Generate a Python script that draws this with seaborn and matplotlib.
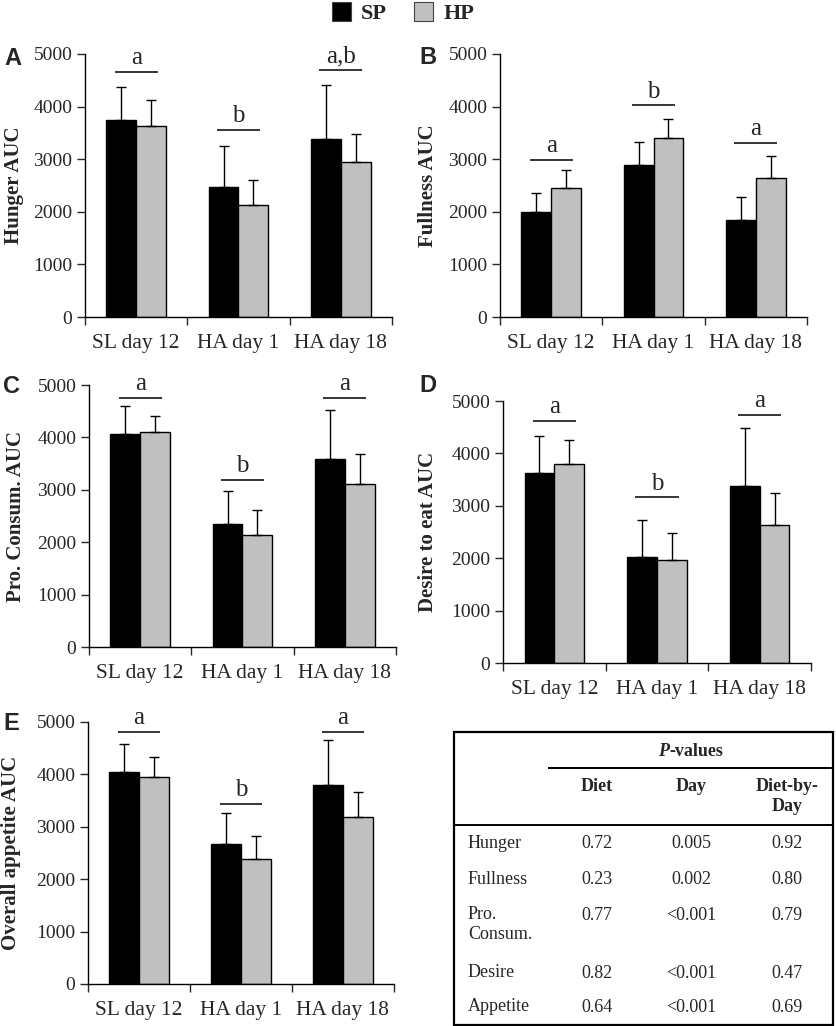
import numpy as np
import pandas as pd
import matplotlib.pyplot as plt
import seaborn as sns
from matplotlib.patches import Patch, Rectangle

days = ["SL day 12", "HA day 1", "HA day 18"]
diets = ["SP", "HP"]

hunger_sp = [3750, 2480, 3380]
hunger_sp_sd = [615, 780, 1030]
hunger_hp = [3630, 2130, 2940]
hunger_hp_sd = [495, 470, 540]
hunger_letters = ["a", "b", "a,b"]
hunger_letter_y = [4660, 3550, 4700]

fullness_sp = [1990, 2890, 1840]
fullness_sp_sd = [375, 440, 435]
fullness_hp = [2445, 3410, 2635]
fullness_hp_sd = [355, 355, 430]
fullness_letters = ["a", "b", "a"]
fullness_letter_y = [2985, 4025, 3315]

consum_sp = [4065, 2350, 3595]
consum_sp_sd = [525, 630, 920]
consum_hp = [4105, 2135, 3120]
consum_hp_sd = [310, 480, 555]
consum_letters = ["a", "b", "a"]
consum_letter_y = [4750, 3195, 4750]

desire_sp = [3635, 2020, 3375]
desire_sp_sd = [700, 705, 1105]
desire_hp = [3800, 1975, 2625]
desire_hp_sd = [465, 515, 625]
desire_letters = ["a", "b", "a"]
desire_letter_y = [4620, 3160, 4740]

appetite_sp = [4045, 2675, 3805]
appetite_sp_sd = [540, 595, 845]
appetite_hp = [3950, 2385, 3195]
appetite_hp_sd = [375, 435, 460]
appetite_letters = ["a", "b", "a"]
appetite_letter_y = [4810, 3430, 4810]

table_rows = ["Hunger", "Fullness", "Pro.\nConsum.", "Desire", "Appetite"]
p_diet = ["0.72", "0.23", "0.77", "0.82", "0.64"]
p_day = ["0.005", "0.002", "<0.001", "<0.001", "<0.001"]
p_diet_by_day = ["0.92", "0.80", "0.79", "0.47", "0.69"]

sns.set_style("ticks")
plt.rcParams["font.family"] = ["Liberation Serif", "DejaVu Serif"]

W, H = 837, 1026
fig = plt.figure(figsize=(W / 100, H / 100), dpi=100)


def px_axes(left, top, right, bottom):
    return fig.add_axes([left / W, 1 - bottom / H, (right - left) / W, (bottom - top) / H])


# tag, y label, data..., axes box (px), tag position (px), y label right edge (px)
panels = [
    ("A", "Hunger AUC", hunger_sp, hunger_sp_sd, hunger_hp, hunger_hp_sd,
     hunger_letters, hunger_letter_y, (85, 54, 392, 317), (4, 65), 24),
    ("B", "Fullness AUC", fullness_sp, fullness_sp_sd, fullness_hp, fullness_hp_sd,
     fullness_letters, fullness_letter_y, (500, 54, 807, 317), (419, 64), 438),
    ("C", "Pro. Consum. AUC", consum_sp, consum_sp_sd, consum_hp, consum_hp_sd,
     consum_letters, consum_letter_y, (89, 385, 396, 647), (3, 393), 26),
    ("D", "Desire to eat AUC", desire_sp, desire_sp_sd, desire_hp, desire_hp_sd,
     desire_letters, desire_letter_y, (503, 401, 811, 663), (419, 392), 438),
    ("E", "Overall appetite AUC", appetite_sp, appetite_sp_sd, appetite_hp, appetite_hp_sd,
     appetite_letters, appetite_letter_y, (88, 722, 394, 984), (3, 730), 21),
]

colors = ["black", "#c0c0c0"]

for (tag, ylabel, sp, sp_sd, hp, hp_sd, letters, letter_y,
     box, tag_pos, label_x) in panels:
    ax = px_axes(*box)
    df = pd.DataFrame({
        "day": days * 2,
        "diet": ["SP"] * 3 + ["HP"] * 3,
        "auc": sp + hp,
    })
    sns.barplot(
        data=df, x="day", y="auc", hue="diet", order=days, hue_order=diets,
        palette=colors, width=0.58, edgecolor="black", linewidth=1,
        errorbar=None, legend=False, saturation=1, ax=ax
    )
    for cont, means, sd in zip(ax.containers, [sp, hp], [sp_sd, hp_sd]):
        xs = [p.get_x() + p.get_width() / 2 for p in cont]
        ax.errorbar(xs, means, yerr=[np.zeros(len(sd)), sd], fmt="none",
                    ecolor="black", elinewidth=1, capsize=3.5, capthick=1, zorder=5)
    for i, (lt, ly) in enumerate(zip(letters, letter_y)):
        ax.hlines(ly, i - 0.21, i + 0.21, color="black", linewidth=1.1)
        ax.annotate(lt, (i, ly), xytext=(0, 2), textcoords="offset points",
                    ha="center", va="bottom", fontsize=18)

    ax.set_ylim(0, 5000)
    ax.set_xlim(-0.5, 2.5)
    ax.set_yticks(range(0, 5001, 1000))
    ax.set_xticks([-0.5, 0.5, 1.5, 2.5])
    ax.set_xticklabels([])
    ax.set_xticks(range(3), minor=True)
    ax.set_xticklabels(days, minor=True, fontsize=15.5)
    ax.tick_params(axis="x", which="minor", length=0, pad=12)
    ax.tick_params(axis="x", which="major", length=6, width=1, direction="out")
    ax.tick_params(axis="y", length=6, width=1, labelsize=14, pad=3)
    ax.set_xlabel("")
    ax.set_ylabel(ylabel, fontsize=15, fontweight="bold")
    ax.yaxis.set_label_coords((label_x - box[0]) / (box[2] - box[0]), 0.5)
    sns.despine(ax=ax)
    for s in ["left", "bottom"]:
        ax.spines[s].set_linewidth(1)
        ax.spines[s].set_color("black")

    fig.text(tag_pos[0] / W, 1 - tag_pos[1] / H, tag, fontsize=17,
             fontweight="bold", family="Liberation Sans", ha="left", va="baseline")

handles = [Patch(facecolor=c, edgecolor="#444444", linewidth=0.8) for c in colors]
fig.legend(handles, diets, loc="center", bbox_to_anchor=(403 / W, 1 - 13 / H),
           ncol=2, frameon=False, handlelength=0.88, handleheight=0.95,
           handletextpad=0.45, columnspacing=1.2,
           prop={"family": "Liberation Serif", "weight": "bold", "size": 16})

# p-value table
tl, tt, tr, tb = 454, 732, 833, 1025
tax = px_axes(tl, tt, tr, tb)
tax.set_xlim(0, tr - tl)
tax.set_ylim(tb - tt, 0)
tax.axis("off")
tax.add_patch(Rectangle((0, 0), tr - tl, tb - tt, fill=False,
                        edgecolor="black", linewidth=1.6, clip_on=False))
tax.hlines(36, 94, tr - tl, color="black", linewidth=1.4)
tax.hlines(93, 0, tr - tl, color="black", linewidth=1.4)

tax.text(215, 19, "P", fontsize=13, fontweight="bold", fontstyle="italic",
         ha="right", va="center")
tax.text(215, 19, "-values", fontsize=13, fontweight="bold", ha="left", va="center")

col_x = [143, 237, 333]
for x, h in zip(col_x, ["Diet", "Day", "Diet-by-\nDay"]):
    tax.text(x, 46, h, fontsize=13, fontweight="bold", ha="center", va="top",
             linespacing=1.2)

row_y = [112, 148, 183, 241, 275]
for y, lab, a, b, c in zip(row_y, table_rows, p_diet, p_day, p_diet_by_day):
    tax.text(14, y - 9, lab, fontsize=13, ha="left", va="top", linespacing=1.25)
    for x, v in zip(col_x, [a, b, c]):
        tax.text(x, y, v, fontsize=13, ha="center", va="center")

fig.savefig("out.png", dpi=100)
